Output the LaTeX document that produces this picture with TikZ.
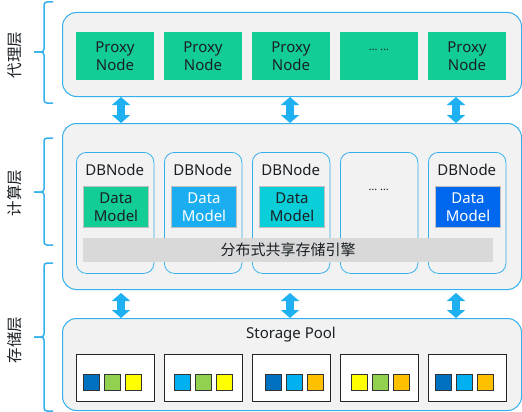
\documentclass[tikz,border=0pt]{standalone}
\usepackage{fontspec}
\setmainfont{Noto Sans}
\newfontfamily\cjk{Noto Sans CJK SC}
\usetikzlibrary{arrows.meta}
\definecolor{lineblue}{RGB}{52,176,236}
\definecolor{arrowblue}{RGB}{30,176,240}
\definecolor{panelgray}{RGB}{242,242,242}
\definecolor{pgreen}{RGB}{19,205,150}
\definecolor{dlblue}{RGB}{26,174,240}
\definecolor{dcyan}{RGB}{10,207,216}
\definecolor{dblue}{RGB}{0,104,238}
\definecolor{bargray}{RGB}{217,217,217}
\definecolor{txtdark}{RGB}{26,32,36}
\definecolor{sqdblue}{RGB}{0,112,192}
\definecolor{sqgreen}{RGB}{146,208,80}
\definecolor{sqyellow}{RGB}{255,255,0}
\definecolor{sqlblue}{RGB}{0,176,240}
\definecolor{sqorange}{RGB}{255,192,0}
\tikzset{
  panel/.style={draw=lineblue, line width=1pt, fill=panelgray, rounded corners=14pt, anchor=north west, inner sep=0pt},
  proxybox/.style={fill=pgreen, anchor=north west, minimum width=77.5pt, minimum height=48pt, inner sep=0pt, text=txtdark, align=center, font=\fontsize{15}{18}\selectfont},
  dbbox/.style={draw=lineblue, line width=0.8pt, fill=panelgray, rounded corners=10pt, anchor=north west, minimum width=77.5pt, minimum height=121pt, inner sep=0pt},
  dbtitle/.style={text=txtdark, font=\fontsize{15}{18}\selectfont, inner sep=0pt},
  dmbox/.style={draw=black!25, line width=1pt, anchor=north west, minimum width=65pt, minimum height=41pt, inner sep=0pt, align=center, font=\fontsize{15}{17.5}\selectfont},
  stbox/.style={draw=black!85, line width=0.8pt, fill=white, anchor=north west, minimum width=77.5pt, minimum height=47pt, inner sep=0pt},
  sq/.style={draw=black!80, line width=0.6pt, minimum size=16pt, inner sep=0pt},
  dbarrow/.style={draw=arrowblue, line width=8pt, {Triangle[width=18pt,length=8pt]}-{Triangle[width=18pt,length=8pt]}},
  brace/.style={draw=lineblue, line width=1.5pt, rounded corners=3pt},
  layerlabel/.style={rotate=90, text=txtdark, font=\cjk\fontsize{15.5}{16}\selectfont, inner sep=0pt},
  dots/.style={text=txtdark, font=\fontsize{11}{12}\selectfont, inner sep=0pt}
}
\begin{document}
\begin{tikzpicture}[x=1pt,y=-1pt]
\useasboundingbox (0,0) rectangle (522,412);

% layer labels and braces
\node[layerlabel] (l1) at (15,55) {代理层};
\node[layerlabel] (l2) at (15,193) {计算层};
\node[layerlabel] (l3) at (15,340) {存储层};
\draw[brace] (53,2) -- (44,2) -- (44,52) -- (34,52);
\draw[brace] (34,52) -- (44,52) -- (44,103) -- (53,103);
\draw[brace] (53,138) -- (44,138) -- (44,192) -- (34,192);
\draw[brace] (34,192) -- (44,192) -- (44,245) -- (53,245);
\draw[brace] (53,263) -- (44,263) -- (44,337) -- (34,337);
\draw[brace] (34,337) -- (44,337) -- (44,411) -- (53,411);

% panels
\node[panel, minimum width=459pt, minimum height=84pt] (proxyL) at (62,12) {};
\node[panel, minimum width=459pt, minimum height=166pt] (compL) at (62,123) {};
\node[panel, minimum width=459pt, minimum height=92pt] (storL) at (62,318) {};

% proxy nodes
\node[proxybox] (p1) at (76,32) {Proxy\\Node};
\node[proxybox] (p2) at (164,32) {Proxy\\Node};
\node[proxybox] (p3) at (252,32) {Proxy\\Node};
\node[proxybox] (p4) at (340,32) {};
\node[dots] at ([yshift=6pt]p4.center) {\ldots\ \ldots};
\node[proxybox] (p5) at (428,32) {Proxy\\Node};

% DB nodes
\node[dbbox] (d1) at (76,152) {};
\node[dbbox] (d2) at (164,152) {};
\node[dbbox] (d3) at (252,152) {};
\node[dbbox] (d4) at (340,152) {};
\node[dbbox] (d5) at (428,152) {};
\node[dbtitle] (t1) at (114.75,170) {DBNode};
\node[dbtitle] (t2) at (202.75,170) {DBNode};
\node[dbtitle] (t3) at (290.75,170) {DBNode};
\node[dots] (t4) at (378.75,190) {\ldots\ \ldots};
\node[dbtitle] (t5) at (466.75,170) {DBNode};
\node[dmbox, fill=pgreen, text=txtdark] (m1) at (83,186) {Data\\Model};
\node[dmbox, fill=dlblue, text=white] (m2) at (171,186) {Data\\Model};
\node[dmbox, fill=dcyan, text=txtdark] (m3) at (259,186) {Data\\Model};
\node[dmbox, fill=dblue, text=white] (m5) at (435,186) {Data\\Model};

% shared storage engine bar
\node[fill=bargray, anchor=north west, minimum width=410pt, minimum height=24pt, inner sep=0pt] (bar) at (83,238) {};
\node[text=txtdark, font=\cjk\fontsize{15}{16}\selectfont, inner sep=0pt] (bartxt) at (288,250) {分布式共享存储引擎};

% storage pool
\node[text=txtdark, font=\fontsize{15}{18}\selectfont, inner sep=0pt] (sp) at (291,335) {Storage Pool};
\node[stbox] (s1) at (76,354) {};
\node[stbox] (s2) at (164,354) {};
\node[stbox] (s3) at (252,354) {};
\node[stbox] (s4) at (340,354) {};
\node[stbox] (s5) at (428,354) {};
\node[sq, fill=sqdblue]  (q11) at (91,382) {};
\node[sq, fill=sqgreen]  (q12) at (112,382) {};
\node[sq, fill=sqyellow] (q13) at (133,382) {};
\node[sq, fill=sqlblue]  (q21) at (182,382) {};
\node[sq, fill=sqgreen]  (q22) at (203,382) {};
\node[sq, fill=sqyellow] (q23) at (224,382) {};
\node[sq, fill=sqdblue]  (q31) at (273,382) {};
\node[sq, fill=sqlblue]  (q32) at (294,382) {};
\node[sq, fill=sqorange] (q33) at (315,382) {};
\node[sq, fill=sqyellow] (q41) at (359,382) {};
\node[sq, fill=sqgreen]  (q42) at (380,382) {};
\node[sq, fill=sqorange] (q43) at (401,382) {};
\node[sq, fill=sqdblue]  (q51) at (443,382) {};
\node[sq, fill=sqlblue]  (q52) at (464,382) {};
\node[sq, fill=sqorange] (q53) at (485,382) {};

% arrows between layers
\coordinate (a1) at (121,0);
\coordinate (a2) at (290,0);
\coordinate (a3) at (456,0);
\draw[dbarrow] (proxyL.south -| a1) -- (compL.north -| a1);
\draw[dbarrow] (proxyL.south -| a2) -- (compL.north -| a2);
\draw[dbarrow] (proxyL.south -| a3) -- (compL.north -| a3);
\draw[dbarrow] ([yshift=-3pt]compL.south -| a1) -- (storL.north -| a1);
\draw[dbarrow] ([yshift=-3pt]compL.south -| a2) -- (storL.north -| a2);
\draw[dbarrow] ([yshift=-3pt]compL.south -| a3) -- (storL.north -| a3);
\end{tikzpicture}
\end{document}
